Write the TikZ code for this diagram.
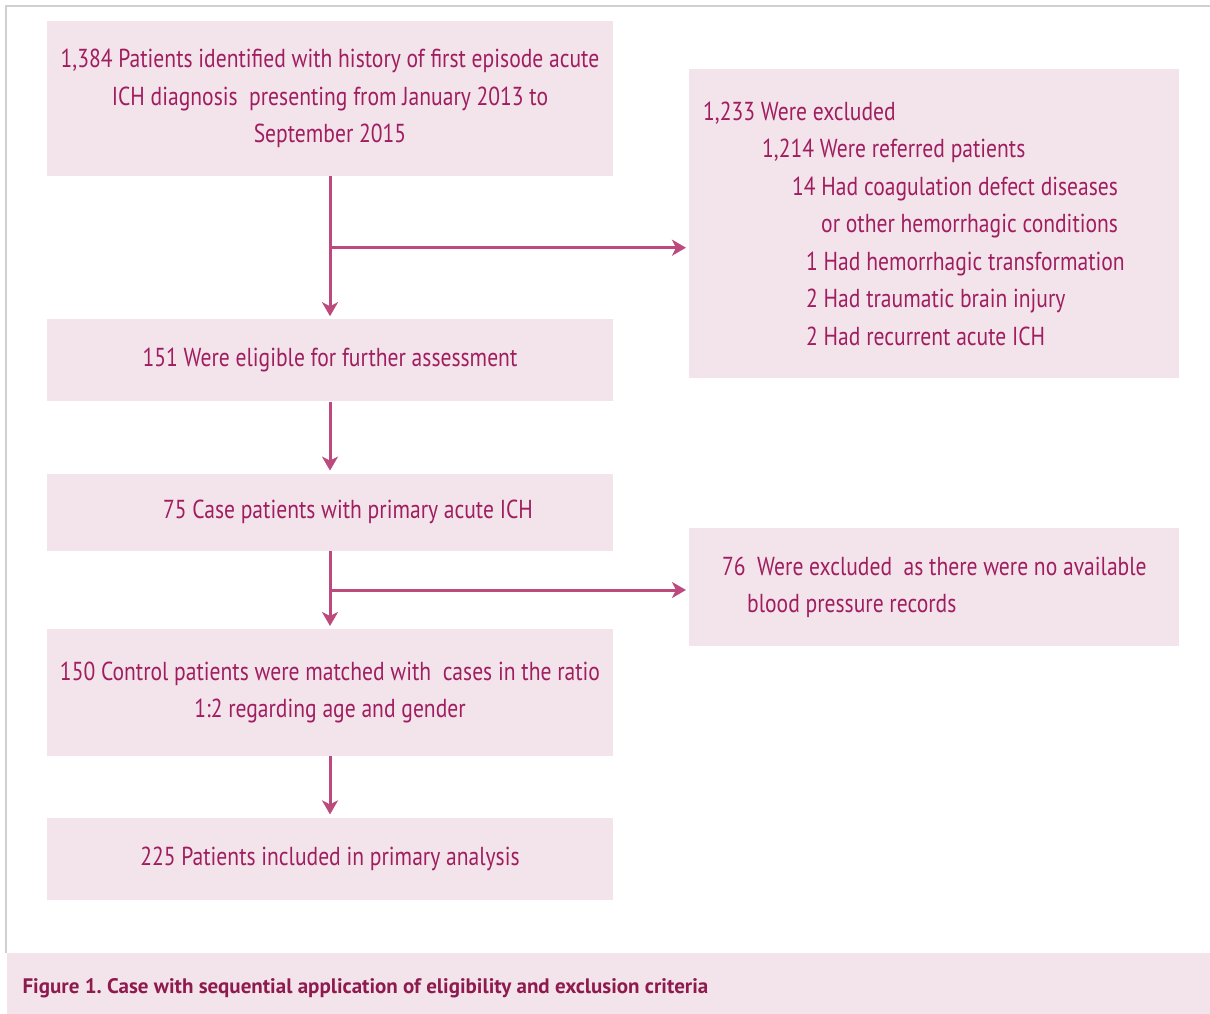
\documentclass[tikz,border=0pt]{standalone}
\usepackage{fontspec}
\setmainfont{PT Sans}[FakeStretch=0.83]
\newfontfamily\capfont{PT Sans}
\usepackage{xcolor}
\usepackage{tikz}
\usetikzlibrary{positioning, arrows.meta, calc}

\definecolor{boxpink}{HTML}{F3E4EC}
\definecolor{inkmag}{HTML}{A01E5F}
\definecolor{arrowmag}{HTML}{BC4A7C}
\definecolor{capmag}{HTML}{8E1A4E}
\definecolor{framegray}{HTML}{D0D0D0}

\frenchspacing

\begin{document}
\begin{tikzpicture}[
    x=1pt, y=1pt,
    node distance=72pt,
    every node/.style={text=inkmag, font=\fontsize{26}{37.5}\selectfont},
    stage/.style={rectangle, fill=boxpink, minimum width=566pt, inner sep=0pt, align=center},
    excl/.style={rectangle, fill=boxpink, anchor=north west, minimum width=490pt, text width=462pt, inner xsep=14pt, inner ysep=0pt, align=flush left},
    flow/.style={-{Stealth[length=14pt, width=16pt, inset=4pt]}, line width=3pt, draw=arrowmag, shorten >=3pt}
]

\useasboundingbox (0,0) rectangle (1210,-1014);

% frame and caption band
\draw[framegray, line width=1.5pt] (6,-953) -- (6,-6) -- (1210,-6);
\fill[boxpink] (7,-953) rectangle (1210,-1014);
\node[anchor=base west, text=capmag, font=\capfont\bfseries\fontsize{21}{25}\selectfont] (caption) at (19,-993)
    {Figure 1. Case with sequential application of eligibility and exclusion criteria};

% main flow
\node[stage, minimum height=155pt] (identified) at (330,-98.5)
    {1,384 Patients identified with history of first episode acute \\ ICH diagnosis\ \ presenting from January 2013 to \\ September 2015};
\node[stage, minimum height=82pt, below=143pt of identified] (eligible) {151 Were eligible for further assessment};
\node[stage, minimum height=77pt, below=72pt of eligible] (cases) {\hspace*{36pt}75 Case patients with primary acute ICH};
\node[stage, minimum height=127pt, below=78pt of cases] (controls)
    {150 Control patients were matched with\ \ cases in the ratio \\ 1:2 regarding age and gender};
\node[stage, minimum height=82pt, below=61pt of controls] (included) {225 Patients included in primary analysis};

% exclusions
\node[excl, minimum height=309pt] (excluded) at (689,-69)
    {1,233 Were excluded \\
     \hspace*{59pt}1,214 Were referred patients \\
     \hspace*{89pt}14 Had coagulation defect diseases \\
     \hspace*{118pt}or other hemorrhagic conditions \\
     \hspace*{103pt}1 Had hemorrhagic transformation \\
     \hspace*{103pt}2 Had traumatic brain injury \\
     \hspace*{103pt}2 Had recurrent acute ICH};
\node[excl, minimum height=118pt] (nobp) at (689,-528)
    {\hspace*{19pt}76\ \ Were excluded\ \ as there were no available \\
     \hspace*{44pt}blood pressure records};

\coordinate (split1) at ($(identified.south)!0.5!(eligible.north)$);
\coordinate (split2) at ($(cases.south)!0.5!(controls.north)$);

\draw[flow] (identified) -- (eligible);
\draw[flow] (split1) -- (split1 -| excluded.west);
\draw[flow] (eligible) -- (cases);
\draw[flow] (cases) -- (controls);
\draw[flow] (split2) -- (split2 -| nobp.west);
\draw[flow] (controls) -- (included);

\end{tikzpicture}
\end{document}
